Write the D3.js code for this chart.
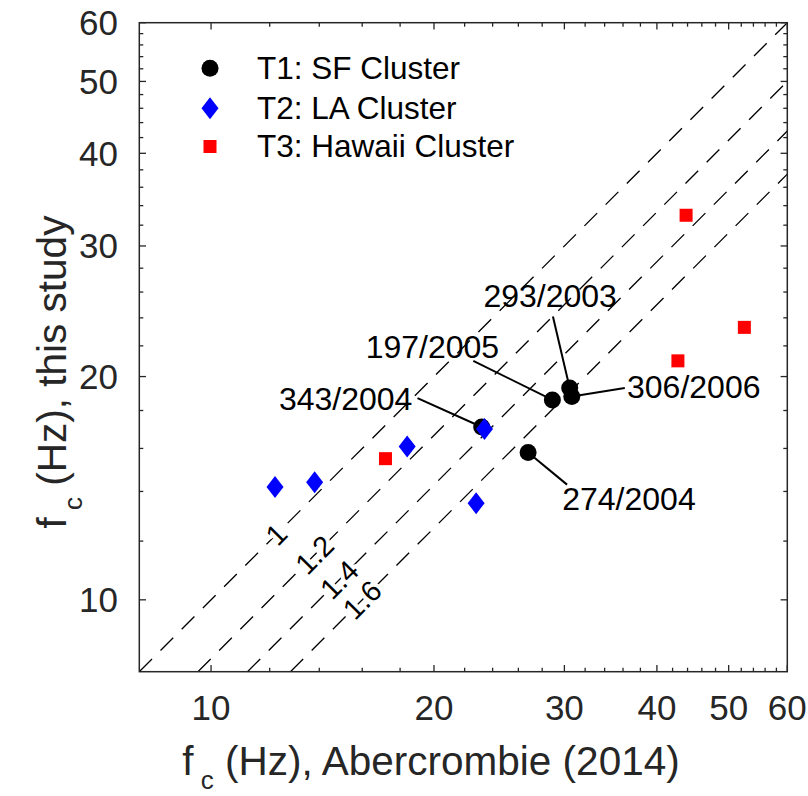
<!DOCTYPE html>
<html>
<head>
<meta charset="utf-8">
<script src="https://cdn.jsdelivr.net/npm/d3@7"></script>
<style>
  body { margin: 0; background: #fff; }
  svg { display: block; font-family: "Liberation Sans", Arial, sans-serif; }
</style>
</head>
<body>
<div id="chart"></div>
<script>
// --- data (Hz) ---
const sfX = [23.2, 28.9, 30.5, 30.7, 26.8];
const sfY = [17.1, 18.6, 19.3, 18.8, 15.8];
const laX = [12.2, 13.8, 18.4, 23.4, 22.8];
const laY = [14.2, 14.4, 16.1, 17.0, 13.5];
const hiX = [17.2, 43.8, 52.5, 42.7];
const hiY = [15.5, 33.0, 23.3, 21.0];

const ratios = [1, 1.2, 1.4, 1.6];
const ratioLabelX = [12.25, 13.8, 14.9, 16.0];

const eventNames = ['343/2004', '197/2005', '293/2003', '306/2006', '274/2004'];
const leaderX = [19.0, 22.6, 28.95, 36.2, 30.25];
const leaderY = [18.7, 21.0, 24.1, 19.3, 14.3];
const nameX = [18.7, 19.9, 28.7, 36.45, 29.8];
const nameY = [18.05, 21.2, 24.8, 18.7, 13.2];
const nameAnchor = ['end', 'middle', 'middle', 'start', 'start'];

const legendNames = ['T1: SF Cluster', 'T2: LA Cluster', 'T3: Hawaii Cluster'];
const tickLabels = [10, 20, 30, 40, 50, 60];
const minorTicks = [12, 14, 16, 18, 22, 24, 26, 28, 32, 34, 36, 38, 42, 44, 46, 48, 52, 54, 56, 58];

// --- layout ---
const W = 808, H = 796;
const L = 139.3, R = 787.3, T = 22.7, B = 671.7;
const AX = '#262626';

const x = d3.scaleLog().domain([8, 60]).range([L, R]);
const y = d3.scaleLog().domain([8, 60]).range([B, T]);

const svg = d3.select('#chart').append('svg').attr('width', W).attr('height', H);

svg.append('defs').append('clipPath').attr('id', 'plot')
  .append('rect').attr('x', L).attr('y', T).attr('width', R - L).attr('height', B - T);

const g = svg.append('g').attr('clip-path', 'url(#plot)');

// ratio lines y = x / r
g.selectAll('line.ratio').data(ratios).join('line')
  .attr('class', 'ratio')
  .attr('x1', d => x(8 * d)).attr('y1', y(8))
  .attr('x2', x(60)).attr('y2', d => y(60 / d))
  .attr('stroke', '#000').attr('stroke-width', 1.3)
  .attr('stroke-dasharray', '18,12');

// ratio labels
svg.selectAll('text.rlab').data(ratios).join('text')
  .attr('class', 'rlab')
  .attr('transform', (d, i) => `translate(${x(ratioLabelX[i])},${y(ratioLabelX[i] / d)}) rotate(-45)`)
  .attr('text-anchor', 'middle').attr('dominant-baseline', 'central')
  .attr('font-size', 29).attr('fill', '#000')
  .attr('stroke', '#fff').attr('stroke-width', 8).attr('stroke-linejoin', 'round')
  .attr('paint-order', 'stroke')
  .text(d => d);

// leader lines
svg.selectAll('line.lead').data(eventNames).join('line')
  .attr('class', 'lead')
  .attr('x1', (d, i) => x(leaderX[i])).attr('y1', (d, i) => y(leaderY[i]))
  .attr('x2', (d, i) => x(sfX[i])).attr('y2', (d, i) => y(sfY[i]))
  .attr('stroke', '#000').attr('stroke-width', 2);

svg.selectAll('text.name').data(eventNames).join('text')
  .attr('class', 'name')
  .attr('x', (d, i) => x(nameX[i])).attr('y', (d, i) => y(nameY[i]))
  .attr('text-anchor', (d, i) => nameAnchor[i])
  .attr('font-size', 32).attr('fill', '#000')
  .text(d => d);

// markers
const diamond = (cx, cy) => `M${cx},${cy - 11}L${cx + 8.5},${cy}L${cx},${cy + 11}L${cx - 8.5},${cy}Z`;

svg.selectAll('circle.sf').data(sfX).join('circle')
  .attr('class', 'sf')
  .attr('cx', d => x(d)).attr('cy', (d, i) => y(sfY[i]))
  .attr('r', 8.5).attr('fill', '#000');

svg.selectAll('path.la').data(laX).join('path')
  .attr('class', 'la')
  .attr('d', (d, i) => diamond(x(d), y(laY[i])))
  .attr('fill', '#0000ff');

svg.selectAll('rect.hi').data(hiX).join('rect')
  .attr('class', 'hi')
  .attr('x', d => x(d) - 6.5).attr('y', (d, i) => y(hiY[i]) - 6.5)
  .attr('width', 13).attr('height', 13).attr('fill', '#ff0000');

// frame + ticks
svg.append('rect').attr('x', L).attr('y', T).attr('width', R - L).attr('height', B - T)
  .attr('fill', 'none').attr('stroke', AX).attr('stroke-width', 1.5);

const ticks = tickLabels.map(v => ({ v, len: 6.7 })).concat(minorTicks.map(v => ({ v, len: 4 })));
const tk = svg.append('g').attr('stroke', AX).attr('stroke-width', 1.3);
ticks.forEach(t => {
  tk.append('line').attr('x1', x(t.v)).attr('x2', x(t.v)).attr('y1', B).attr('y2', B - t.len);
  tk.append('line').attr('x1', x(t.v)).attr('x2', x(t.v)).attr('y1', T).attr('y2', T + t.len);
  tk.append('line').attr('y1', y(t.v)).attr('y2', y(t.v)).attr('x1', L).attr('x2', L + t.len);
  tk.append('line').attr('y1', y(t.v)).attr('y2', y(t.v)).attr('x1', R).attr('x2', R - t.len);
});

svg.selectAll('text.xt').data(tickLabels).join('text')
  .attr('class', 'xt')
  .attr('x', d => x(d)).attr('y', 720)
  .attr('text-anchor', 'middle').attr('font-size', 35).attr('fill', AX)
  .text(d => d);

svg.selectAll('text.yt').data(tickLabels).join('text')
  .attr('class', 'yt')
  .attr('x', 118).attr('y', d => y(d))
  .attr('text-anchor', 'end').attr('dominant-baseline', 'central')
  .attr('font-size', 35).attr('fill', AX)
  .text(d => d);

// axis titles
const xl = svg.append('text').attr('x', 431).attr('y', 775)
  .attr('text-anchor', 'middle').attr('font-size', 40.5).attr('fill', AX);
xl.append('tspan').text('f');
xl.append('tspan').attr('dy', 14).attr('font-size', 26).text(' c');
xl.append('tspan').attr('dy', -14).text(' (Hz), Abercrombie (2014)');

const yl = svg.append('text').attr('transform', 'translate(66,372) rotate(-90)')
  .attr('text-anchor', 'middle').attr('font-size', 40.5).attr('fill', AX);
yl.append('tspan').text('f');
yl.append('tspan').attr('dy', 16).attr('font-size', 26).text(' c');
yl.append('tspan').attr('dy', -16).text(' (Hz), this study');

// legend
const lg = svg.append('g');
const rowY = [68.3, 108.3, 146.5];
lg.append('circle').attr('cx', 210).attr('cy', rowY[0]).attr('r', 8.5).attr('fill', '#000');
lg.append('path').attr('d', diamond(210, rowY[1])).attr('fill', '#0000ff');
lg.append('rect').attr('x', 203.5).attr('y', rowY[2] - 6.5).attr('width', 13).attr('height', 13).attr('fill', '#ff0000');
lg.selectAll('text').data(legendNames).join('text')
  .attr('x', 257).attr('y', (d, i) => rowY[i] + 10.5)
  .attr('font-size', 31.5).attr('fill', '#000')
  .text(d => d);
</script>
</body>
</html>
